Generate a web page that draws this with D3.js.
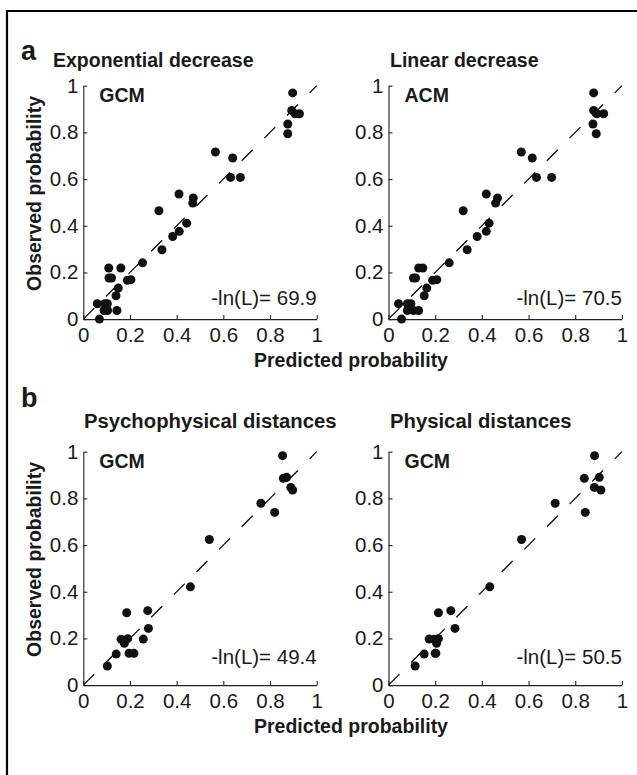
<!DOCTYPE html>
<html>
<head>
<meta charset="utf-8">
<script src="https://cdn.jsdelivr.net/npm/d3@7"></script>
<style>
  html, body { margin: 0; padding: 0; background: #fff; }
  svg { display: block; font-family: "Liberation Sans", Arial, Helvetica, sans-serif; }
</style>
</head>
<body>
<svg id="chart" width="637" height="775"></svg>
<script>
// ---------- DATA ----------
const tickValues = [0, 0.2, 0.4, 0.6, 0.8, 1];
const tickLabels = ["0", "0.2", "0.4", "0.6", "0.8", "1"];

// Panel a: observed probabilities (shared) and predictions from the two models
const aObs = [0.969, 0.894, 0.88, 0.88, 0.836, 0.794, 0.716, 0.69, 0.607, 0.607, 0.536, 0.519, 0.497, 0.464, 0.411, 0.376, 0.354, 0.297, 0.241, 0.219, 0.219, 0.176, 0.176, 0.166, 0.169, 0.133, 0.1, 0.066, 0.066, 0.066, 0.037, 0.037, 0.037, 0.0];
const aExpPred = [0.897, 0.893, 0.907, 0.926, 0.876, 0.876, 0.566, 0.64, 0.631, 0.673, 0.41, 0.471, 0.469, 0.324, 0.443, 0.411, 0.383, 0.337, 0.254, 0.109, 0.161, 0.11, 0.121, 0.189, 0.204, 0.15, 0.14, 0.06, 0.092, 0.103, 0.089, 0.104, 0.144, 0.069];
const aLinPred = [0.879, 0.879, 0.893, 0.922, 0.876, 0.89, 0.569, 0.616, 0.634, 0.699, 0.419, 0.467, 0.459, 0.32, 0.431, 0.419, 0.38, 0.337, 0.26, 0.129, 0.147, 0.107, 0.116, 0.189, 0.207, 0.164, 0.153, 0.043, 0.081, 0.096, 0.081, 0.107, 0.129, 0.056];

// Panel b
const bObs = [0.983, 0.89, 0.886, 0.847, 0.836, 0.779, 0.74, 0.624, 0.421, 0.31, 0.319, 0.243, 0.197, 0.196, 0.179, 0.199, 0.136, 0.136, 0.133, 0.082];
const bPsyPred = [0.854, 0.871, 0.857, 0.889, 0.897, 0.761, 0.82, 0.54, 0.459, 0.186, 0.276, 0.279, 0.257, 0.162, 0.176, 0.19, 0.196, 0.217, 0.141, 0.103];
const bPhyPred = [0.883, 0.903, 0.839, 0.882, 0.91, 0.714, 0.843, 0.57, 0.434, 0.214, 0.267, 0.285, 0.174, 0.196, 0.206, 0.214, 0.2, 0.203, 0.153, 0.114];

const panelTitles = ["Exponential decrease", "Linear decrease", "Psychophysical distances", "Physical distances"];
const modelNames = ["GCM", "ACM", "GCM", "GCM"];
const fitStats = ["-ln(L)= 69.9", "-ln(L)= 70.5", "-ln(L)= 49.4", "-ln(L)= 50.5"];
const sectionLabels = ["a", "b"];
const xLabel = "Predicted probability";
const yLabel = "Observed probability";

// ---------- LAYOUT ----------
const svg = d3.select("#chart");
const ink = "#1a1a1a";
const size = 233.4;
const colX = [83.3, 388.5];
const rowY = [85.7, 451.7]; // top of plot areas
const fs = 19.5;
const fsTick = 20.5;

// frame
svg.append("path")
  .attr("d", "M7,790 V11 H650")
  .attr("fill", "none").attr("stroke", "#000").attr("stroke-width", 2.2);

const panels = [
  { pred: aExpPred, obs: aObs, col: 0, row: 0, statDy: 14, tx: 53, tfs: 19.5 },
  { pred: aLinPred, obs: aObs, col: 1, row: 0, statDy: 14, tx: 390, tfs: 19.5 },
  { pred: bPsyPred, obs: bObs, col: 0, row: 1, statDy: 21, tx: 84, tfs: 20.3 },
  { pred: bPhyPred, obs: bObs, col: 1, row: 1, statDy: 21, tx: 390, tfs: 20.3 }
];

panels.forEach((p, i) => {
  const x0 = colX[p.col], y0 = rowY[p.row];
  const x = d3.scaleLinear().domain([0, 1]).range([x0, x0 + size]);
  const y = d3.scaleLinear().domain([0, 1]).range([y0 + size, y0]);
  const g = svg.append("g");

  // title
  g.append("text")
    .attr("x", p.tx)
    .attr("y", p.row === 0 ? 67 : 428)
    .attr("font-size", p.tfs).attr("font-weight", "bold").attr("fill", ink)
    .text(panelTitles[i]);

  // diagonal dashed line
  g.append("line")
    .attr("x1", x(0)).attr("y1", y(0)).attr("x2", x(1)).attr("y2", y(1))
    .attr("stroke", "#000").attr("stroke-width", 1.2)
    .attr("stroke-dasharray", "15.5,16.5");

  // axes (ticks pointing inward)
  const xAxis = d3.axisBottom(x).tickValues(tickValues)
    .tickFormat((d, k) => tickLabels[k]).tickSizeInner(-4).tickSizeOuter(0).tickPadding(8);
  const yAxis = d3.axisLeft(y).tickValues(tickValues)
    .tickFormat((d, k) => tickLabels[k]).tickSizeInner(-4).tickSizeOuter(0).tickPadding(5);

  const gx = g.append("g").attr("transform", `translate(0,${y(0)})`).call(xAxis);
  const gy = g.append("g").attr("transform", `translate(${x(0)},0)`).call(yAxis);
  [gx, gy].forEach(ax => {
    ax.select(".domain").attr("stroke", "#222").attr("stroke-width", 1.1);
    ax.selectAll(".tick line").attr("stroke", "#222").attr("stroke-width", 1.1);
    ax.selectAll(".tick text").attr("font-size", fsTick).attr("fill", ink)
      .attr("font-family", '"Liberation Sans", Arial, sans-serif');
  });

  // points
  g.append("g").selectAll("circle")
    .data(p.pred.map((v, k) => [v, p.obs[k]]))
    .join("circle")
    .attr("cx", d => x(d[0])).attr("cy", d => y(d[1]))
    .attr("r", 4.5).attr("fill", "#111");

  // model name
  g.append("text")
    .attr("x", x0 + 16).attr("y", y0 + 16.5)
    .attr("font-size", fs).attr("font-weight", "bold").attr("fill", ink)
    .text(modelNames[i]);

  // fit statistic
  g.append("text")
    .attr("x", x(1)).attr("y", y(0) - p.statDy)
    .attr("text-anchor", "end")
    .attr("font-size", fsTick).attr("fill", ink)
    .text(fitStats[i]);
});

// shared axis labels and section letters
[0, 1].forEach(r => {
  const y0 = rowY[r];
  svg.append("text")
    .attr("x", 351).attr("y", y0 + size + 48)
    .attr("text-anchor", "middle")
    .attr("font-size", fs).attr("font-weight", "bold").attr("fill", ink)
    .text(xLabel);
  svg.append("text")
    .attr("transform", `translate(41,${y0 + size / 2 - 9}) rotate(-90)`)
    .attr("text-anchor", "middle")
    .attr("font-size", fs).attr("font-weight", "bold").attr("fill", ink)
    .text(yLabel);
  svg.append("text")
    .attr("x", 21).attr("y", r === 0 ? 60 : 407)
    .attr("font-size", 27).attr("font-weight", "bold").attr("fill", ink)
    .text(sectionLabels[r]);
});
</script>
</body>
</html>
